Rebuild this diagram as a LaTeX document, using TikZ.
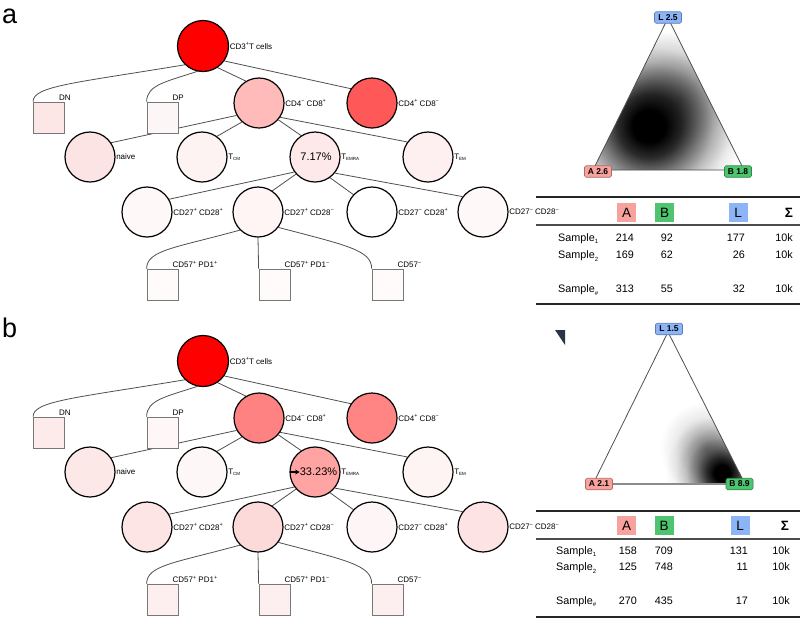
\documentclass[tikz,border=0pt]{standalone}
\usepackage{fontspec}
\setmainfont{Liberation Sans}
\usetikzlibrary{calc,arrows.meta}
\pgfdeclarelayer{back}
\pgfdeclarelayer{bg}
\pgfsetlayers{back,bg,main}

% panel a colours
\definecolor{aroot}{HTML}{FF0000}
\definecolor{acdp}{HTML}{FFBABA}
\definecolor{acdm}{HTML}{FF5858}
\definecolor{adn}{HTML}{FDE6E6}
\definecolor{adp}{HTML}{FDF6F6}
\definecolor{anaive}{HTML}{FDE4E4}
\definecolor{atcm}{HTML}{FEF3F3}
\definecolor{atemra}{HTML}{FDE9E9}
\definecolor{atem}{HTML}{FEF0F0}
\definecolor{aca}{HTML}{FFF8F8}
\definecolor{acb}{HTML}{FFF5F5}
\definecolor{acc}{HTML}{FFFFFF}
\definecolor{acd}{HTML}{FFF8F8}
\definecolor{asq}{HTML}{FFFBFB}
% panel b colours
\definecolor{broot}{HTML}{FF0000}
\definecolor{bcdp}{HTML}{FF8282}
\definecolor{bcdm}{HTML}{FF8585}
\definecolor{bdn}{HTML}{FDEBEB}
\definecolor{bdp}{HTML}{FFF7F7}
\definecolor{bnaive}{HTML}{FDE8E8}
\definecolor{btcm}{HTML}{FEF7F7}
\definecolor{btemra}{HTML}{FFA3A3}
\definecolor{btem}{HTML}{FEF4F4}
\definecolor{bca}{HTML}{FDE5E5}
\definecolor{bcb}{HTML}{FDDADA}
\definecolor{bcc}{HTML}{FEF6F6}
\definecolor{bcd}{HTML}{FDE3E3}
\definecolor{bsq}{HTML}{FDEFEF}
% other colours
\definecolor{colA}{HTML}{F7A29D}
\definecolor{colB}{HTML}{4FC46E}
\definecolor{colL}{HTML}{8CB4F6}
\definecolor{bordA}{HTML}{B06A66}
\definecolor{bordB}{HTML}{2E8A4A}
\definecolor{bordL}{HTML}{5A7DB8}
\definecolor{conncol}{HTML}{505050}
\definecolor{sqcol}{HTML}{777777}
\definecolor{markcol}{HTML}{2B3447}

\pgfdeclareradialshading{gblob}{\pgfpointorigin}{%
  color(0bp)=(black); color(3bp)=(black); color(6bp)=(black!80);
  color(10bp)=(black!45); color(14bp)=(black!18); color(18bp)=(black!5);
  color(22bp)=(white); color(25bp)=(white); color(50bp)=(white)}
\pgfdeclareradialshading{gblobw}{\pgfpointorigin}{%
  color(0bp)=(black); color(4bp)=(black); color(8bp)=(black!82);
  color(12bp)=(black!52); color(16bp)=(black!25); color(20bp)=(black!8);
  color(24bp)=(white); color(25bp)=(white); color(50bp)=(white)}
\pgfdeclareradialshading{gblobl}{\pgfpointorigin}{%
  color(0bp)=(black!40); color(7bp)=(black!25); color(14bp)=(black!8);
  color(21bp)=(white); color(25bp)=(white); color(50bp)=(white)}

\newcommand\mysub[1]{\raisebox{-0.3ex}{\fontsize{4.5}{5}\selectfont #1}}
\newcommand\mysup[1]{\raisebox{0.85ex}{\fontsize{5.5}{6}\selectfont #1}}
\newcommand\ssub[1]{\raisebox{-0.45ex}{\fontsize{6}{6}\selectfont #1}}

\tikzset{
  cnode/.style={circle, draw=black, line width=1.2pt, minimum size=50pt, inner sep=0pt},
  sqbox/.style={rectangle, draw=sqcol, line width=0.8pt, minimum size=31pt, inner sep=0pt},
  conn/.style={draw=conncol, line width=0.8pt},
  lab/.style={anchor=west, inner sep=0.5pt, font=\fontsize{8}{9}\selectfont},
  sqlab/.style={anchor=south west, inner sep=0pt, font=\fontsize{8}{9}\selectfont},
  pct/.style={inner sep=0pt, font=\fontsize{11}{12}\selectfont},
  tri/.style={draw=conncol, line width=0.8pt},
  vbox/.style={rectangle, rounded corners=1.5pt, line width=0.6pt, minimum width=27pt,
     minimum height=11.5pt, inner sep=0.5pt, font=\fontsize{8.5}{9}\selectfont\bfseries},
  hbox/.style={rectangle, minimum width=19pt, minimum height=19pt, inner sep=0pt,
     font=\fontsize{13.5}{14}\selectfont},
  tnum/.style={inner sep=0pt, font=\fontsize{10.8}{12}\selectfont},
  thick rule/.style={line width=1.6pt, draw=black!85},
  thin rule/.style={line width=1.1pt, draw=black!70},
  panel/.style={inner sep=0pt, anchor=base west, font=\fontsize{27}{30}\selectfont},
}

\newcommand\mytree[1]{%
  \node[cnode, fill=#1root, minimum size=51pt] (#1root) at (203,46) {};
  \node[lab] (#1rootl) at (#1root.east) {CD3\mysup{+}T cells};
  \node[sqbox, fill=#1dn] (#1dn) at (49,117.5) {};
  \node[sqlab] (#1dnl) at ([xshift=-6pt,yshift=1pt]#1dn.north east) {DN};
  \node[sqbox, fill=#1dp] (#1dp) at (162.5,117.5) {};
  \node[sqlab] (#1dpl) at ([xshift=-6pt,yshift=1pt]#1dp.north east) {DP};
  \node[cnode, fill=#1cdp] (#1cdp) at (259,103) {};
  \node[lab] (#1cdpl) at (#1cdp.east) {CD4\mysup{−} CD8\mysup{+}};
  \node[cnode, fill=#1cdm] (#1cdm) at (372,103) {};
  \node[lab] (#1cdml) at (#1cdm.east) {CD4\mysup{+} CD8\mysup{−}};
  \node[cnode, fill=#1naive] (#1naive) at (90,157) {};
  \node[lab] (#1naivel) at (#1naive.east) {naive};
  \node[cnode, fill=#1tcm] (#1tcm) at (202,157) {};
  \node[lab] (#1tcml) at (#1tcm.east) {T\mysub{CM}};
  \node[cnode, fill=#1temra] (#1temra) at (315,157) {};
  \node[lab] (#1temral) at (#1temra.east) {T\mysub{EMRA}};
  \node[cnode, fill=#1tem] (#1tem) at (428,157) {};
  \node[lab] (#1teml) at (#1tem.east) {T\mysub{EM}};
  \node[cnode, fill=#1ca] (#1ca) at (147,212) {};
  \node[lab] (#1cal) at (#1ca.east) {CD27\mysup{+} CD28\mysup{+}};
  \node[cnode, fill=#1cb] (#1cb) at (258,212) {};
  \node[lab] (#1cbl) at (#1cb.east) {CD27\mysup{+} CD28\mysup{−}};
  \node[cnode, fill=#1cc] (#1cc) at (372,212) {};
  \node[lab] (#1ccl) at (#1cc.east) {CD27\mysup{−} CD28\mysup{+}};
  \node[cnode, fill=#1cd] (#1cd) at (483,212) {};
  \node[lab] (#1cdl) at (#1cd.east) {CD27\mysup{−} CD28\mysup{−}};
  \node[sqbox, fill=#1sq] (#1sa) at (162.5,284.5) {};
  \node[sqlab] (#1sal) at ([xshift=-6pt,yshift=0.7pt]#1sa.north east) {CD57\mysup{+} PD1\mysup{+}};
  \node[sqbox, fill=#1sq] (#1sb) at (274.5,284.5) {};
  \node[sqlab] (#1sbl) at ([xshift=-6pt,yshift=0.7pt]#1sb.north east) {CD57\mysup{+} PD1\mysup{−}};
  \node[sqbox, fill=#1sq] (#1sc) at (387.5,284.5) {};
  \node[sqlab] (#1scl) at ([xshift=-6pt,yshift=0.7pt]#1sc.north east) {CD57\mysup{−}};
  \begin{pgfonlayer}{bg}
    \draw[conn] (#1root.304) -- (#1cdp.121);
    \draw[conn] (#1root.325) -- (#1cdm.146);
    \draw[conn] (#1root.226) .. controls (75,83) and (33,86) .. (#1dn.north west);
    \draw[conn] (#1root.257) .. controls (165,82) and (147,85) .. (#1dp.north west);
    \draw[conn] (#1cdp.209) -- (#1naive.34);
    \draw[conn] (#1cdp.228) -- (#1tcm.54);
    \draw[conn] (#1cdp.319) -- (#1temra.123);
    \draw[conn] (#1cdp.326) -- (#1tem.144);
    \draw[conn] (#1temra.216) -- (#1ca.30);
    \draw[conn] (#1temra.222) -- (#1cb.56);
    \draw[conn] (#1temra.306) -- (#1cc.137);
    \draw[conn] (#1temra.321) -- (#1cd.143);
    \draw[conn] (#1cb.225) .. controls (175,248) and (147,250) .. (#1sa.north west);
    \draw[conn] (#1cb.south) -- (#1sb.north west);
    \draw[conn] (#1cb.323) .. controls (345,245) and (372,250) .. (#1sc.north west);
  \end{pgfonlayer}
}

\begin{document}
\begin{tikzpicture}[x=1pt, y=-1pt]
\begin{pgfonlayer}{back}
\fill[white] (0,0) rectangle (800,619);
\end{pgfonlayer}
\useasboundingbox (0,0) rectangle (800,619);

% panel labels
\node[panel] (pa) at (2,23) {a};
\node[panel] (pb) at (2,337) {b};

% trees
\mytree{a}
\node[pct] (apct) at (316,157) {7.17\%};
\begin{scope}[yshift=-315pt]
\mytree{b}
\end{scope}
\node[pct] (bpct) at (318.5,472) {33.23\%};
\coordinate (barr) at (290,472);
\draw[-{Stealth[length=4.5pt,width=5pt]}, line width=1.2pt] (barr) -- (bpct.west);

% ---------- triangle a ----------
\coordinate (aL) at (668,18);
\coordinate (aA) at (593,170);
\coordinate (aB) at (744,170);
\begin{scope}
  \clip (aL) -- (aA) -- (aB) -- cycle;
  \begin{scope}[blend mode=multiply]
    \shade[shading=gblobl] (680,100) circle (85);
    \shade[shading=gblobw] (649,126) circle (100);
  \end{scope}
\end{scope}
\draw[tri] (aL) -- (aA) -- (aB) -- cycle;
\node[vbox, fill=colL, draw=bordL] (aLb) at (668,17.5) {L 2.5};
\node[vbox, fill=colA, draw=bordA] (aAb) at (598,171.5) {A 2.6};
\node[vbox, fill=colB, draw=bordB] (aBb) at (738,171.5) {B 1.8};

% ---------- triangle b ----------
\coordinate (bL) at (668,332);
\coordinate (bA) at (593,484);
\coordinate (bB) at (745,484);
\begin{scope}
  \clip (bL) -- (bA) -- (bB) -- cycle;
  \begin{scope}[blend mode=multiply]
    \shade[shading=gblobl] (706,448) circle (55);
    \shade[shading=gblob] (722,473) circle (65);
  \end{scope}
\end{scope}
\draw[tri] (bL) -- (bA) -- (bB) -- cycle;
\draw[line width=1.4pt, draw=black!45] (bA) -- (bB);
\node[vbox, fill=colL, draw=bordL] (bLb) at (669,329) {L 1.5};
\node[vbox, fill=colA, draw=bordA] (bAb) at (599,484) {A 2.1};
\node[vbox, fill=colB, draw=bordB] (bBb) at (739.5,484) {B 8.9};
\fill[markcol] (555,330) -- (565,330) -- (565,345) -- cycle;

% ---------- table a ----------
\draw[thick rule] (536,197) -- (800,197);
\draw[thin rule] (536,225) -- (800,225);
\draw[thick rule] (536,304) -- (800,304);
\node[hbox, fill=colA] (aHA) at (626.5,212.5) {A};
\node[hbox, fill=colB] (aHB) at (664.5,212.5) {B};
\node[hbox, fill=colL] (aHL) at (738,212.5) {L};
\node[hbox] (aHS) at (789,212.5) {\textbf{Σ}};
\node[tnum, anchor=base west] (aS1) at (558,241) {Sample\ssub{1}};
\node[tnum, anchor=base west] (aS2) at (558,258.5) {Sample\ssub{2}};
\node[tnum, anchor=base west] (aS3) at (558,292.5) {Sample\ssub{\#}};
\node[tnum, anchor=base east] (a11) at (634,241) {214};
\node[tnum, anchor=base east] (a12) at (673,241) {92};
\node[tnum, anchor=base east] (a13) at (745,241) {177};
\node[tnum, anchor=base east] (a14) at (793,241) {10k};
\node[tnum, anchor=base east] (a21) at (634,258.5) {169};
\node[tnum, anchor=base east] (a22) at (673,258.5) {62};
\node[tnum, anchor=base east] (a23) at (745,258.5) {26};
\node[tnum, anchor=base east] (a24) at (793,258.5) {10k};
\node[tnum, anchor=base east] (a31) at (634,292.5) {313};
\node[tnum, anchor=base east] (a32) at (673,292.5) {55};
\node[tnum, anchor=base east] (a33) at (745,292.5) {32};
\node[tnum, anchor=base east] (a34) at (793,292.5) {10k};

% ---------- table b ----------
\draw[thick rule] (536,511) -- (800,511);
\draw[thin rule] (536,539) -- (800,539);
\draw[thick rule] (536,617) -- (800,617);
\node[hbox, fill=colA] (bHA) at (626.5,525.5) {A};
\node[hbox, fill=colB] (bHB) at (664,525.5) {B};
\node[hbox, fill=colL] (bHL) at (740,525.5) {L};
\node[hbox] (bHS) at (785,525.5) {\textbf{Σ}};
\node[tnum, anchor=base west] (bS1) at (556,554) {Sample\ssub{1}};
\node[tnum, anchor=base west] (bS2) at (556,570.7) {Sample\ssub{2}};
\node[tnum, anchor=base west] (bS3) at (556,604) {Sample\ssub{\#}};
\node[tnum, anchor=base east] (b11) at (637,554) {158};
\node[tnum, anchor=base east] (b12) at (673,554) {709};
\node[tnum, anchor=base east] (b13) at (748,554) {131};
\node[tnum, anchor=base east] (b14) at (790,554) {10k};
\node[tnum, anchor=base east] (b21) at (637,570.7) {125};
\node[tnum, anchor=base east] (b22) at (673,570.7) {748};
\node[tnum, anchor=base east] (b23) at (748,570.7) {11};
\node[tnum, anchor=base east] (b24) at (790,570.7) {10k};
\node[tnum, anchor=base east] (b31) at (637,604) {270};
\node[tnum, anchor=base east] (b32) at (673,604) {435};
\node[tnum, anchor=base east] (b33) at (748,604) {17};
\node[tnum, anchor=base east] (b34) at (790,604) {10k};
\end{tikzpicture}
\end{document}
